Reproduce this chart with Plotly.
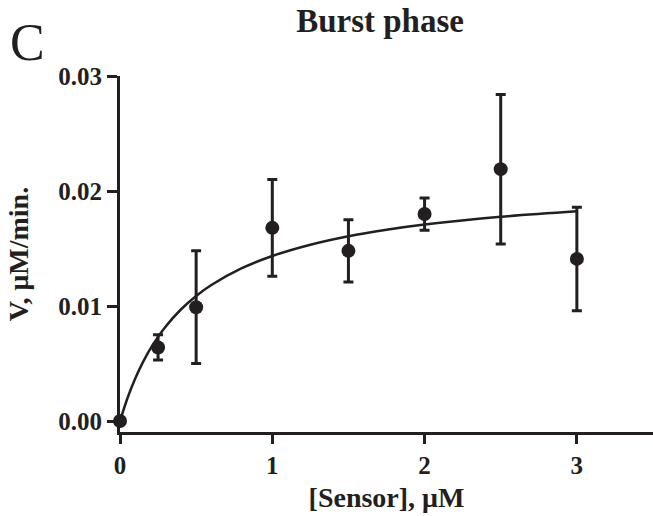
import plotly.graph_objects as go

# Data points (mean ± error)
sensor_um = [0, 0.25, 0.5, 1.0, 1.5, 2.0, 2.5, 3.0]
velocity = [0.0, 0.0064, 0.0099, 0.0168, 0.0148, 0.0180, 0.0219, 0.0141]
velocity_err = [0.0, 0.0011, 0.0049, 0.0042, 0.0027, 0.0014, 0.0065, 0.0045]

# Fitted curve
fit_x = [0, 0.05, 0.1, 0.15, 0.2, 0.3, 0.4, 0.5, 0.6, 0.8, 1.0, 1.25, 1.5, 1.75, 2.0, 2.5, 3.0]
fit_y = [0.0, 0.00203, 0.00370, 0.00510, 0.00630, 0.00822, 0.00970, 0.01088, 0.01183,
         0.01329, 0.01435, 0.01533, 0.01607, 0.01663, 0.01708, 0.01776, 0.01824]

x_ticks = [0, 1, 2, 3]
y_ticks = [0.0, 0.01, 0.02, 0.03]

INK = "#231f20"
FONT = "Liberation Serif"

fig = go.Figure()
fig.add_trace(go.Scatter(
    x=fit_x, y=fit_y, mode="lines",
    line=dict(color=INK, width=2.5, shape="spline"),
    showlegend=False, hoverinfo="skip", cliponaxis=False,
))
fig.add_trace(go.Scatter(
    x=sensor_um, y=velocity, mode="markers",
    marker=dict(color=INK, size=14),
    error_y=dict(type="data", array=velocity_err, color=INK, thickness=3, width=5),
    showlegend=False, cliponaxis=False,
))

fig.update_layout(
    width=653, height=516,
    margin=dict(l=120, r=0, t=76, b=84),
    paper_bgcolor="white", plot_bgcolor="white",
    font=dict(family=FONT, color=INK),
    title=dict(text="<b>Burst phase</b>", x=0.582, xanchor="center", y=0.961, yanchor="middle",
               font=dict(family=FONT, size=33, color=INK)),
    xaxis=dict(
        range=[0, 3.5], tickvals=x_ticks, ticktext=[f"<b>{v}</b>" for v in x_ticks],
        showline=True, linecolor=INK, linewidth=3, ticks="outside", ticklen=9,
        tickwidth=3, tickcolor=INK, showgrid=False, zeroline=False,
        tickfont=dict(family=FONT, size=25, color=INK),
        title=dict(text="<b>[Sensor], μM</b>", font=dict(family=FONT, size=28, color=INK), standoff=10),
    ),
    yaxis=dict(
        range=[-0.00095, 0.03], tickvals=y_ticks, ticktext=[f"<b>{v:.2f}</b>" for v in y_ticks],
        showline=True, linecolor=INK, linewidth=3, ticks="outside", ticklen=10,
        tickwidth=3, tickcolor=INK, showgrid=False, zeroline=False,
        tickfont=dict(family=FONT, size=25, color=INK),
        title=dict(text="<b>V, μM/min.</b>", font=dict(family=FONT, size=28, color=INK), standoff=22),
    ),
    annotations=[dict(
        text="C", xref="paper", yref="paper", x=-112/533, y=(432 - 42) / 356,
        xanchor="left", yanchor="middle", showarrow=False,
        font=dict(family=FONT, size=52, color=INK),
    )],
)

fig.write_html("out.html")
